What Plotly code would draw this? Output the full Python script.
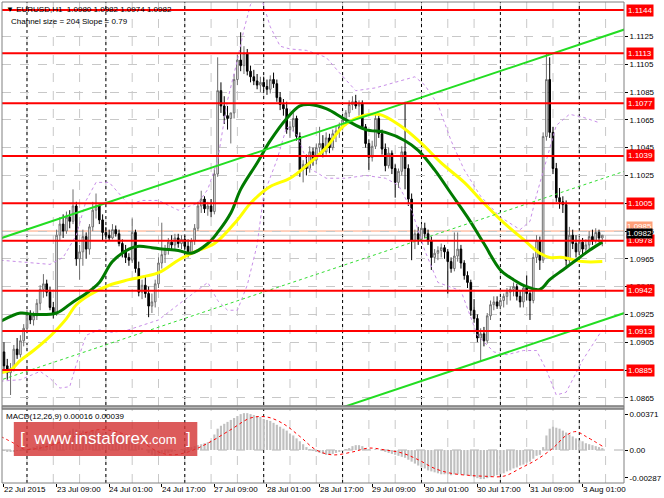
import plotly.graph_objects as go

# --- EURUSD H1 bars, 22 Jul 17:00 .. 3 Aug 07:00 (bar index 0..182) ---
bar_open = [
    1.0898, 1.0888, 1.0883, 1.0886, 1.0900, 1.0896, 1.0906, 1.0915, 1.0925, 1.0921,
    1.0924, 1.0933, 1.0943, 1.0947, 1.0941, 1.0930, 1.0926, 1.0982, 1.0990, 1.0985,
    1.0995, 1.0992, 1.1003, 1.0965, 1.0970, 1.0981, 1.0972, 1.0988, 1.1000, 1.1003,
    1.0993, 1.0984, 1.0982, 1.0980, 1.0986, 1.0983, 1.0976, 1.0970, 1.0966, 1.0964,
    1.0984, 1.0958, 1.0941, 1.0946, 1.0940, 1.0931, 1.0934, 1.0947, 1.0962, 1.0968,
    1.0972, 1.0977, 1.0975, 1.0980, 1.0976, 1.0979, 1.0974, 1.0970, 1.0978, 1.0987,
    1.1003, 1.1008, 1.1001, 1.1003, 1.0999, 1.1026, 1.1086, 1.1075, 1.1068, 1.1066,
    1.1070, 1.1094, 1.1108, 1.1104, 1.1113, 1.1100, 1.1096, 1.1093, 1.1090, 1.1092,
    1.1089, 1.1087, 1.1094, 1.1091, 1.1081, 1.1076, 1.1073, 1.1058, 1.1060, 1.1066,
    1.1053, 1.1029, 1.1033, 1.1030, 1.1042, 1.1036, 1.1045, 1.1048, 1.1042, 1.1052,
    1.1045, 1.1055, 1.1057, 1.1060, 1.1065, 1.1070, 1.1076, 1.1078, 1.1075, 1.1077,
    1.1060, 1.1048, 1.1038, 1.1046, 1.1066, 1.1055, 1.1044, 1.1032, 1.1041, 1.1030,
    1.1020, 1.1028, 1.1042, 1.1030, 1.1008, 1.0978, 1.0983, 1.0979, 1.0987, 1.0983,
    1.0978, 1.0966, 1.0969, 1.0971, 1.0973, 1.0970, 1.0963, 1.0958, 1.0967, 1.0972,
    1.0962, 1.0953, 1.0948, 1.0928, 1.0922, 1.0908, 1.0911, 1.0906, 1.0924, 1.0932,
    1.0934, 1.0931, 1.0935, 1.0938, 1.0941, 1.0943, 1.0945, 1.0938, 1.0934, 1.0944,
    1.0940, 1.0935, 1.0966, 1.0978, 1.0964, 1.1053, 1.1094, 1.1056, 1.1030, 1.1009,
    1.1006, 1.1004, 1.0964, 1.0982, 1.0976, 1.0970, 1.0977, 1.0972, 1.0975, 1.0981,
    1.0978, 1.0984, 1.0980,
]
bar_high = [
    1.0905, 1.0893, 1.0890, 1.0903, 1.0908, 1.0910, 1.0918, 1.0928, 1.0928, 1.0927,
    1.0936, 1.0946, 1.0954, 1.0950, 1.0945, 1.0934, 1.0986, 1.0995, 1.0997, 1.0999,
    1.1000, 1.1015, 1.1006, 1.0975, 1.0986, 1.0984, 1.0990, 1.1006, 1.1012, 1.1005,
    1.0997, 1.0988, 1.0986, 1.0990, 1.0989, 1.0986, 1.0979, 1.0975, 1.0969, 1.0994,
    1.0986, 1.0963, 1.0950, 1.0952, 1.0945, 1.0940, 1.0950, 1.0966, 1.0991, 1.0975,
    1.0980, 1.0982, 1.0983, 1.0983, 1.0982, 1.0982, 1.0979, 1.0980, 1.0990, 1.1006,
    1.1014, 1.1010, 1.1006, 1.1008, 1.1030, 1.1110, 1.1092, 1.1082, 1.1075, 1.1070,
    1.1098, 1.1112, 1.1128, 1.1118, 1.1116, 1.1104, 1.1101, 1.1098, 1.1096, 1.1096,
    1.1094, 1.1097, 1.1099, 1.1094, 1.1085, 1.1080, 1.1078, 1.1064, 1.1070, 1.1068,
    1.1056, 1.1036, 1.1040, 1.1046, 1.1045, 1.1048, 1.1060, 1.1054, 1.1056, 1.1055,
    1.1058, 1.1060, 1.1063, 1.1067, 1.1072, 1.1079, 1.1082, 1.1083, 1.1079, 1.1079,
    1.1062, 1.1051, 1.1050, 1.1070, 1.1068, 1.1058, 1.1048, 1.1045, 1.1043, 1.1033,
    1.1030, 1.1046, 1.1078, 1.1033, 1.1012, 1.0986, 1.0988, 1.0990, 1.0991, 1.0986,
    1.0981, 1.0972, 1.0974, 1.0976, 1.0975, 1.0972, 1.0966, 1.0984, 1.0984, 1.0975,
    1.0964, 1.0956, 1.0950, 1.0936, 1.0925, 1.0915, 1.0916, 1.0926, 1.0935, 1.0938,
    1.0938, 1.0937, 1.0940, 1.0944, 1.0945, 1.0948, 1.0947, 1.0942, 1.0946, 1.0953,
    1.0942, 1.0969, 1.0982, 1.0981, 1.1056, 1.1113, 1.1110, 1.1060, 1.1034, 1.1016,
    1.1010, 1.1007, 1.0988, 1.0986, 1.0982, 1.0981, 1.0980, 1.0979, 1.0985, 1.0986,
    1.0987, 1.0986, 1.0982,
]
bar_low = [
    1.0885, 1.0878, 1.0867, 1.0884, 1.0893, 1.0894, 1.0902, 1.0912, 1.0918, 1.0917,
    1.0921, 1.0928, 1.0937, 1.0938, 1.0928, 1.0922, 1.0924, 1.0978, 1.0980, 1.0983,
    1.0987, 1.0990, 1.0960, 1.0950, 1.0960, 1.0965, 1.0968, 1.0985, 1.0994, 1.0990,
    1.0978, 1.0979, 1.0978, 1.0979, 1.0981, 1.0974, 1.0966, 1.0962, 1.0960, 1.0962,
    1.0955, 1.0938, 1.0936, 1.0937, 1.0923, 1.0926, 1.0930, 1.0944, 1.0958, 1.0962,
    1.0968, 1.0971, 1.0972, 1.0973, 1.0972, 1.0971, 1.0966, 1.0968, 1.0975, 1.0985,
    1.0998, 1.0998, 1.0996, 1.0995, 1.0997, 1.1024, 1.1070, 1.1062, 1.1058, 1.1048,
    1.1066, 1.1090, 1.1100, 1.1098, 1.1097, 1.1092, 1.1090, 1.1087, 1.1085, 1.1086,
    1.1083, 1.1084, 1.1088, 1.1078, 1.1072, 1.1068, 1.1055, 1.1052, 1.1057, 1.1050,
    1.1024, 1.1020, 1.1025, 1.1027, 1.1032, 1.1033, 1.1040, 1.1038, 1.1040, 1.1041,
    1.1043, 1.1049, 1.1052, 1.1058, 1.1061, 1.1067, 1.1072, 1.1073, 1.1068, 1.1058,
    1.1045, 1.1029, 1.1035, 1.1044, 1.1052, 1.1040, 1.1028, 1.1030, 1.1026, 1.1009,
    1.1016, 1.1025, 1.1015, 1.1003, 1.0964, 1.0972, 1.0975, 1.0977, 1.0980, 1.0975,
    1.0957, 1.0962, 1.0964, 1.0966, 1.0965, 1.0940, 1.0955, 1.0956, 1.0963, 1.0958,
    1.0950, 1.0944, 1.0924, 1.0919, 1.0905, 1.0891, 1.0902, 1.0904, 1.0921, 1.0928,
    1.0929, 1.0929, 1.0930, 1.0932, 1.0935, 1.0938, 1.0935, 1.0930, 1.0930, 1.0935,
    1.0921, 1.0933, 1.0962, 1.0957, 1.0962, 1.1050, 1.1052, 1.1026, 1.1006, 1.1001,
    1.0998, 1.0960, 1.0962, 1.0972, 1.0966, 1.0968, 1.0968, 1.0969, 1.0972, 1.0975,
    1.0976, 1.0977, 1.0974,
]
bar_close = [
    1.0888, 1.0883, 1.0886, 1.0900, 1.0896, 1.0906, 1.0915, 1.0925, 1.0921, 1.0924,
    1.0933, 1.0943, 1.0947, 1.0941, 1.0930, 1.0926, 1.0982, 1.0990, 1.0985, 1.0995,
    1.0992, 1.1003, 1.0965, 1.0970, 1.0981, 1.0972, 1.0988, 1.1000, 1.1003, 1.0993,
    1.0984, 1.0982, 1.0980, 1.0986, 1.0983, 1.0976, 1.0970, 1.0966, 1.0964, 1.0984,
    1.0958, 1.0941, 1.0946, 1.0940, 1.0931, 1.0934, 1.0947, 1.0962, 1.0968, 1.0972,
    1.0977, 1.0975, 1.0980, 1.0976, 1.0979, 1.0974, 1.0970, 1.0978, 1.0987, 1.1003,
    1.1008, 1.1001, 1.1003, 1.0999, 1.1026, 1.1086, 1.1075, 1.1068, 1.1066, 1.1070,
    1.1094, 1.1108, 1.1104, 1.1113, 1.1100, 1.1096, 1.1093, 1.1090, 1.1092, 1.1089,
    1.1087, 1.1094, 1.1091, 1.1081, 1.1076, 1.1073, 1.1058, 1.1060, 1.1066, 1.1053,
    1.1029, 1.1033, 1.1030, 1.1042, 1.1036, 1.1045, 1.1048, 1.1042, 1.1052, 1.1045,
    1.1055, 1.1057, 1.1060, 1.1065, 1.1070, 1.1076, 1.1078, 1.1075, 1.1077, 1.1060,
    1.1048, 1.1038, 1.1046, 1.1066, 1.1055, 1.1044, 1.1032, 1.1041, 1.1030, 1.1020,
    1.1028, 1.1042, 1.1030, 1.1008, 1.0978, 1.0983, 1.0979, 1.0987, 1.0983, 1.0978,
    1.0966, 1.0969, 1.0971, 1.0973, 1.0970, 1.0963, 1.0958, 1.0967, 1.0972, 1.0962,
    1.0953, 1.0948, 1.0928, 1.0922, 1.0908, 1.0911, 1.0906, 1.0924, 1.0932, 1.0934,
    1.0931, 1.0935, 1.0938, 1.0941, 1.0943, 1.0945, 1.0938, 1.0934, 1.0944, 1.0940,
    1.0935, 1.0966, 1.0978, 1.0964, 1.1053, 1.1094, 1.1056, 1.1030, 1.1009, 1.1006,
    1.1004, 1.0964, 1.0982, 1.0976, 1.0970, 1.0977, 1.0972, 1.0975, 1.0981, 1.0978,
    1.0984, 1.0980, 1.0982,
]
bars = list(range(len(bar_close)))

# moving averages (dark green = fast, yellow = slow)
ma_fast_bar = [-1, 5, 9, 16, 21, 25, 29, 33, 38, 41, 45, 48, 53, 57, 62, 65, 69, 72, 77, 81,
               86, 90, 93, 98, 104, 110, 116, 122, 126, 131, 136, 141, 146, 151, 155, 159,
               163, 166, 170, 174, 178, 182]
ma_fast_val = [1.0920, 1.0926, 1.0925, 1.0926, 1.0934, 1.0940, 1.0948, 1.0963, 1.0972, 1.0974,
               1.0973, 1.0972, 1.0971, 1.0969, 1.0976, 1.0984, 1.0998, 1.1015, 1.1034, 1.1050,
               1.1066, 1.1075, 1.1076, 1.1073, 1.1065, 1.1058, 1.1056, 1.1050, 1.1043, 1.1029,
               1.1012, 1.0995, 1.0976, 1.0957, 1.0950, 1.0945, 1.0943, 1.0950, 1.0957, 1.0964,
               1.0971, 1.0977]
ma_slow_bar = [-1, 2, 5, 9, 13, 16, 19, 22, 26, 32, 38, 47, 53, 58, 64, 71, 75, 81, 87, 92,
               98, 103, 108, 114, 121, 127, 133, 140, 146, 152, 158, 163, 166, 170, 176, 182]
ma_slow_val = [1.0883, 1.0885, 1.0892, 1.0899, 1.0907, 1.0914, 1.0922, 1.0932, 1.0939, 1.0946,
               1.0950, 1.0955, 1.0964, 1.0970, 1.0976, 1.0993, 1.1005, 1.1017, 1.1023, 1.1032,
               1.1045, 1.1060, 1.1067, 1.1069, 1.1060, 1.1048, 1.1034, 1.1020, 1.1005, 1.0991,
               1.0979, 1.0969, 1.0966, 1.0966, 1.0963, 1.0963]

# bollinger bands (violet dotted)
bb_up_bar = [-1, 5, 14, 18, 22, 25, 28, 32, 35, 38, 42, 47, 53, 59, 62, 65, 68, 71, 73, 75,
             78, 81, 84, 87, 92, 98, 102, 107, 113, 119, 125, 128, 132, 136, 140, 145, 151,
             157, 160, 162, 165, 168, 172, 176, 181]
bb_up_val = [1.0964, 1.0963, 1.0961, 1.0966, 1.0982, 1.1007, 1.1020, 1.1020, 1.1012, 1.1004,
             1.1007, 1.1007, 1.1000, 1.1005, 1.1015, 1.1036, 1.1079, 1.1108, 1.1130, 1.1148,
             1.1155, 1.1132, 1.1118, 1.1116, 1.1115, 1.1110, 1.1099, 1.1086, 1.1088, 1.1092,
             1.1096, 1.1090, 1.1076, 1.1050, 1.1029, 1.1010, 1.0995, 1.0986, 1.0992, 1.1011,
             1.1036, 1.1061, 1.1069, 1.1067, 1.1063]
bb_dn_bar = [-1, 5, 11, 14, 17, 20, 22, 25, 29, 33, 38, 42, 47, 53, 59, 62, 65, 68, 71, 74,
             77, 79, 83, 86, 89, 93, 98, 104, 110, 116, 120, 124, 128, 132, 139, 144, 149,
             153, 158, 162, 165, 168, 171, 176, 182]
bb_dn_val = [1.0877, 1.0878, 1.0884, 1.0879, 1.0872, 1.0873, 1.0889, 1.0910, 1.0914, 1.0912,
             1.0914, 1.0917, 1.0921, 1.0932, 1.0943, 1.0948, 1.0935, 1.0928, 1.0928, 1.0946,
             1.0975, 1.1011, 1.1036, 1.1060, 1.1055, 1.1030, 1.1023, 1.1023, 1.1025, 1.1023,
             1.1018, 1.1000, 1.0971, 1.0948, 1.0942, 1.0910, 1.0898, 1.0896, 1.0899, 1.0899,
             1.0885, 1.0867, 1.0869, 1.0892, 1.0914]

# equidistant channel (size 204 pips), anchor bars and prices
channel_bar = [-2, 190]
channel_upper = [1.0979, 1.1131]
channel_mid = [1.0877, 1.1029]
channel_lower = [1.0775, 1.0927]

# support / resistance levels
level_prices = [1.1144, 1.1113, 1.1077, 1.1039, 1.1005, 1.0978, 1.0942, 1.0913, 1.0885]
bid_price = 1.0982
ask_price = 1.0985

# MACD(12,26,9)
macd_hist = [
    -0.0001, -0.0002, -0.0002, -0.0002, -0.0001, -0.0001, 0.0000,
    0.0001, 0.0002, 0.0003, 0.0004, 0.0005, 0.0006, 0.0007, 0.0007, 0.0007,
    0.0010, 0.0013, 0.0016, 0.0018, 0.0020, 0.0022,
    0.0021, 0.0020, 0.0020, 0.0019, 0.0019, 0.0020, 0.0020,
    0.0019, 0.0018, 0.0017, 0.0016, 0.0016, 0.0015, 0.0014, 0.0013, 0.0011, 0.0010, 0.0009, 0.0008, 0.0005,
    0.0002, 0.0000, -0.0003, -0.0005, -0.0006, -0.0005, -0.0004, -0.0003, -0.0003, -0.0002, -0.0001,
    0.0000, 0.0001, 0.0002, 0.0003, 0.0003, 0.0004, 0.0005, 0.0006, 0.0007, 0.0008,
    0.0010, 0.0016, 0.0022, 0.0025, 0.0027, 0.0029, 0.0031, 0.0033,
    0.0035, 0.0037, 0.0038, 0.0038, 0.0037,
    0.0036, 0.0035, 0.0034, 0.0032, 0.0031, 0.0030, 0.0028, 0.0026, 0.0024, 0.0022, 0.0020, 0.0017, 0.0015,
    0.0012, 0.0009, 0.0006, 0.0003, 0.0001, -0.0001, -0.0002,
    -0.0003, -0.0004, -0.0005, -0.0005, -0.0004, -0.0003, -0.0002, -0.0001, 0.0001,
    0.0002, 0.0004, 0.0005, 0.0005, 0.0004, 0.0002, 0.0001,
    0.0000, 0.0001, 0.0000, -0.0001, -0.0002, -0.0003, -0.0004,
    -0.0005, -0.0006, -0.0007, -0.0008, -0.0010, -0.0012, -0.0014, -0.0016,
    -0.0018, -0.0019, -0.0021, -0.0022, -0.0023, -0.0024, -0.0025, -0.0025,
    -0.0025, -0.0026, -0.0025, -0.0025, -0.0025, -0.0026, -0.0026, -0.0027, -0.0028, -0.0029, -0.0030, -0.0030, -0.0029, -0.0028,
    -0.0027, -0.0026, -0.0025, -0.0024, -0.0022, -0.0021, -0.0019, -0.0018, -0.0016, -0.0015,
    -0.0013, -0.0012, -0.0009, -0.0006, -0.0005, 0.0003,
    0.0015, 0.0022, 0.0024, 0.0023,
    0.0022, 0.0020, 0.0018, 0.0016, 0.0014, 0.0012,
    0.0010, 0.0009, 0.0007, 0.0006, 0.0005, 0.0004, 0.0003, 0.0002,
]
sig_bar = [-1, 3, 6, 11, 18, 24, 29, 34, 41, 47, 51, 56, 62, 69, 75, 80, 85, 90, 95, 100,
           106, 111, 116, 121, 126, 131, 136, 141, 146, 152, 157, 162, 167, 171, 174, 177, 182]
sig_val = [0.0014, 0.0007, 0.0001, 0.0002, 0.0009, 0.0017, 0.0021, 0.0019, 0.0010, -0.0002,
           -0.0005, -0.0002, 0.0007, 0.0021, 0.0033, 0.0034, 0.0027, 0.0014, 0.0000, -0.0005,
           -0.0002, 0.0002, 0.0000, -0.0003, -0.0010, -0.0019, -0.0024, -0.0026, -0.0027, -0.0027,
           -0.0019, -0.0010, 0.0002, 0.0015, 0.0019, 0.0014, 0.0004]

# axis labels
price_ticks = [1.0865, 1.0885, 1.0905, 1.0925, 1.0945, 1.0965, 1.0985, 1.1005,
               1.1025, 1.1045, 1.1065, 1.1085, 1.1105, 1.1125]
macd_ticks = [-0.00287, 0.0, 0.00371]
macd_tick_text = ['-0.00287', '0.00', '0.00371']
time_tick_bars = [0, 16, 32, 48, 64, 80, 96, 112, 128, 144, 160, 176]
time_tick_text = ['22 Jul 2015', '23 Jul 09:00', '24 Jul 01:00', '24 Jul 17:00', '27 Jul 09:00',
                  '28 Jul 01:00', '28 Jul 17:00', '29 Jul 09:00', '30 Jul 01:00', '30 Jul 17:00',
                  '31 Jul 09:00', '3 Aug 01:00']
day_start_bars = [7, 31, 55, 79, 103, 127, 151, 175]
grid_bars = list(range(7, 189, 8))

FONT = 'Liberation Sans, Arial, sans-serif'
MAIN_DOM = [0.1601, 1.0]
MACD_DOM = [0.0, 0.1538]

fig = go.Figure()

# candles
fig.add_trace(go.Candlestick(
    x=bars, open=bar_open, high=bar_high, low=bar_low, close=bar_close,
    increasing=dict(line=dict(color='#6e6e6e', width=1), fillcolor='#ffffff'),
    decreasing=dict(line=dict(color='#000000', width=1), fillcolor='#000000'),
    whiskerwidth=0, hoverinfo='skip', xaxis='x', yaxis='y'))

# indicators
for bx, by in [(bb_up_bar, bb_up_val), (bb_dn_bar, bb_dn_val)]:
    fig.add_trace(go.Scatter(x=bx, y=by, mode='lines', xaxis='x', yaxis='y',
                             line=dict(color='#c88ee8', width=1, dash='dot'), hoverinfo='skip'))
fig.add_trace(go.Scatter(x=ma_slow_bar, y=ma_slow_val, mode='lines', xaxis='x', yaxis='y',
                         line=dict(color='#ffff00', width=3, shape='spline'), hoverinfo='skip'))
fig.add_trace(go.Scatter(x=ma_fast_bar, y=ma_fast_val, mode='lines', xaxis='x', yaxis='y',
                         line=dict(color='#007a00', width=3, shape='spline'), hoverinfo='skip'))
fig.add_trace(go.Scatter(x=channel_bar, y=channel_upper, mode='lines', xaxis='x', yaxis='y',
                         line=dict(color='#22dd22', width=2), hoverinfo='skip'))
fig.add_trace(go.Scatter(x=channel_bar, y=channel_lower, mode='lines', xaxis='x', yaxis='y',
                         line=dict(color='#22dd22', width=2), hoverinfo='skip'))
fig.add_trace(go.Scatter(x=channel_bar, y=channel_mid, mode='lines', xaxis='x', yaxis='y',
                         line=dict(color='#33dd33', width=1, dash='dot'), hoverinfo='skip'))

# MACD panel
fig.add_trace(go.Bar(x=bars, y=macd_hist, xaxis='x2', yaxis='y2',
                     marker=dict(color='#c0c0c0', line=dict(width=0)), hoverinfo='skip'))
fig.add_trace(go.Scatter(x=sig_bar, y=sig_val, mode='lines', xaxis='x2', yaxis='y2',
                         line=dict(color='#ff0000', width=1, dash='dot', shape='spline'),
                         hoverinfo='skip'))

shapes = []
# light dashed vertical grid in both panels
for g in grid_bars:
    for yr in ['y domain', 'y2 domain']:
        shapes.append(dict(type='line', xref='x', yref=yr, x0=g, x1=g, y0=0, y1=1,
                           line=dict(color='#c8c8c8', width=1, dash='dash'), layer='below'))
# day separators
for d in day_start_bars:
    shapes.append(dict(type='line', xref='x', yref='paper', x0=d, x1=d, y0=0, y1=1,
                       line=dict(color='#000000', width=1, dash='dot'), layer='below'))
# MACD zero line
shapes.append(dict(type='line', xref='paper', yref='y2', x0=0, x1=1, y0=0, y1=0,
                   line=dict(color='#b0b0b0', width=1, dash='dash'), layer='below'))
# bid / ask lines
shapes.append(dict(type='line', xref='paper', yref='y', x0=0, x1=1, y0=ask_price, y1=ask_price,
                   line=dict(color='#ffa07a', width=1), layer='below'))
shapes.append(dict(type='line', xref='paper', yref='y', x0=0, x1=1, y0=bid_price, y1=bid_price,
                   line=dict(color='#c8c8c8', width=1), layer='below'))
# horizontal levels
for lv in level_prices:
    shapes.append(dict(type='line', xref='paper', yref='y', x0=0, x1=1, y0=lv, y1=lv,
                       line=dict(color='#ff0000', width=2), layer='above'))
# panel frames and separator
shapes.append(dict(type='rect', xref='paper', yref='paper', x0=0, x1=1,
                   y0=MACD_DOM[1], y1=MAIN_DOM[0], fillcolor='#b8b8b8',
                   line=dict(color='#707070', width=1), layer='above'))
for yr in ['y domain', 'y2 domain']:
    shapes.append(dict(type='rect', xref='paper', yref=yr, x0=0, x1=1, y0=0, y1=1,
                       line=dict(color='#808080', width=1), layer='above'))
# watermark box
shapes.append(dict(type='rect', xref='paper', yref='paper', x0=0.019, x1=0.314,
                   y0=0.056, y1=0.127, fillcolor='rgba(212,55,55,0.82)',
                   line=dict(width=0), layer='above'))

annotations = []
# price scale labels: red levels, then ask (orange) and bid (black) drawn over them
for lv in level_prices:
    annotations.append(dict(xref='paper', yref='y', x=1, y=lv, xanchor='left', xshift=2,
                            text='%.4f' % lv, showarrow=False, bgcolor='#ff0000',
                            font=dict(family=FONT, size=8, color='white'), borderpad=1))
annotations.append(dict(xref='paper', yref='y', x=1, y=ask_price, xanchor='left', xshift=2,
                        yshift=5, text='%.4f' % ask_price, showarrow=False, bgcolor='#ffa07a',
                        font=dict(family=FONT, size=8, color='white'), borderpad=0))
annotations.append(dict(xref='paper', yref='y', x=1, y=bid_price, xanchor='left', xshift=2,
                        yshift=2, text='%.4f' % bid_price, showarrow=False, bgcolor='#000000',
                        font=dict(family=FONT, size=8, color='white'), borderpad=0))
# time labels
for b, t in zip(time_tick_bars, time_tick_text):
    annotations.append(dict(xref='x2', yref='paper', x=b, y=0, xanchor='left', yanchor='top',
                            xshift=-2, yshift=0, text=t, showarrow=False,
                            font=dict(family=FONT, size=8, color='black')))
# chart captions
annotations.append(dict(xref='paper', yref='y domain', x=0, y=1, xanchor='left', yanchor='top',
                        xshift=2, yshift=-1, showarrow=False,
                        text='\u25bc EURUSD,H1  1.0980 1.0982 1.0974 1.0982',
                        font=dict(family=FONT, size=8, color='black')))
annotations.append(dict(xref='paper', yref='y domain', x=0, y=1, xanchor='left', yanchor='top',
                        xshift=7, yshift=-13, showarrow=False,
                        text='Channel size = 204 Slope = 0.79',
                        font=dict(family=FONT, size=8, color='black')))
annotations.append(dict(xref='paper', yref='y2 domain', x=0, y=1, xanchor='left', yanchor='top',
                        xshift=2, yshift=-1, showarrow=False,
                        text='MACD(12,26,9) 0.00016 0.00039',
                        font=dict(family=FONT, size=8, color='black')))
# watermark text
annotations.append(dict(xref='paper', yref='paper', x=0.1665, y=0.0915, xanchor='center',
                        yanchor='middle', showarrow=False,
                        text="[  www.instaforex<span style='font-size:13px'>.com</span>  ]",
                        font=dict(family=FONT, size=17, color='white')))

fig.update_layout(
    width=664, height=498,
    margin=dict(l=2, r=32, t=2, b=15),
    paper_bgcolor='white', plot_bgcolor='white',
    showlegend=False, bargap=0.35, hovermode=False,
    font=dict(family=FONT, size=8, color='black'),
    xaxis=dict(domain=[0, 1], anchor='y', range=[-0.6, 188.6],
               rangeslider=dict(visible=False), showticklabels=False,
               tickvals=[], showgrid=False, zeroline=False),
    yaxis=dict(domain=MAIN_DOM, anchor='x', side='right', range=[1.08591, 1.11498],
               tickvals=price_ticks, tickformat='.4f', ticks='outside', ticklen=3,
               tickcolor='#000000', showgrid=True, gridcolor='#c8c8c8', griddash='dash',
               zeroline=False, tickfont=dict(family=FONT, size=8, color='black')),
    xaxis2=dict(domain=[0, 1], anchor='y2', range=[-0.6, 188.6], matches='x',
                tickvals=time_tick_bars, showticklabels=False, ticks='outside', ticklen=3,
                tickcolor='#000000', showgrid=False, zeroline=False),
    yaxis2=dict(domain=MACD_DOM, anchor='x2', side='right', range=[-0.0034, 0.004225],
                tickvals=macd_ticks, ticktext=macd_tick_text, ticks='outside', ticklen=3,
                tickcolor='#000000', showgrid=False, zeroline=False,
                tickfont=dict(family=FONT, size=8, color='black')),
    shapes=shapes,
    annotations=annotations,
)

# the page body has a default 8px margin; drop it so the chart fills the window
fig.write_html("out.html", config={'displayModeBar': False, 'staticPlot': True},
               post_script="document.body.style.margin='0px';")
